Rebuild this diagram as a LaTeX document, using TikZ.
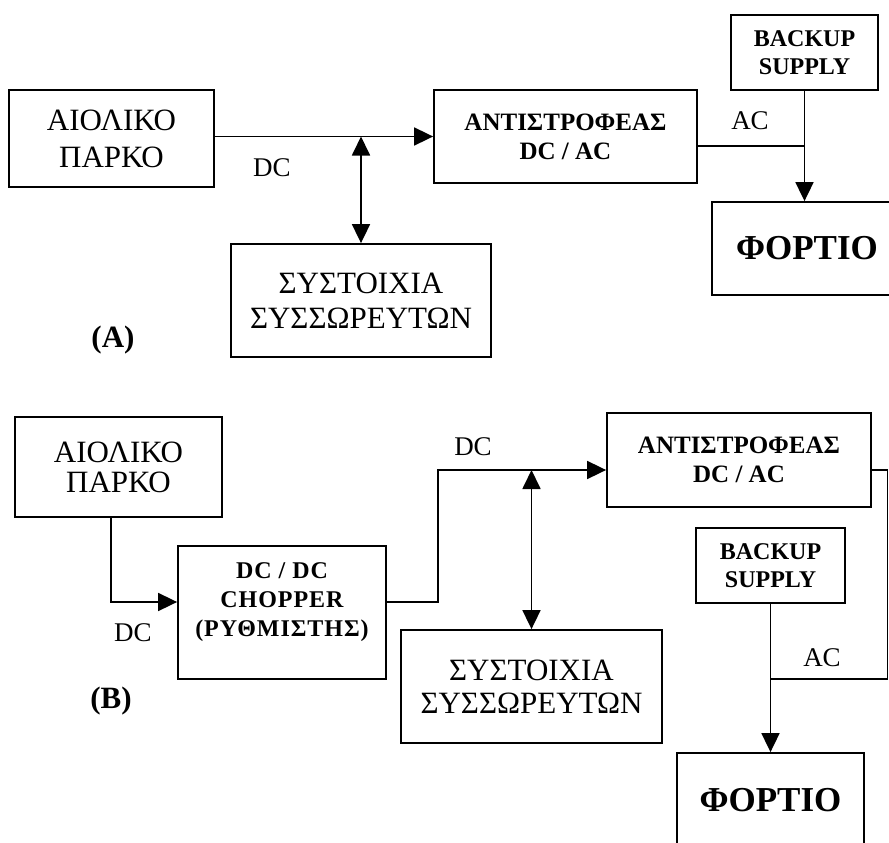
\documentclass[tikz,border=0pt]{standalone}
\usepackage{fontspec}
\setmainfont{Liberation Serif}
\newfontfamily\chopfont[LetterSpace=4]{Liberation Serif}
\usetikzlibrary{arrows.meta}
\tikzset{
  blk/.style={draw, line width=1.8pt, inner sep=0pt, align=center},
  conn/.style={line width=1.8pt},
  tip/.style={-{Triangle[length=19pt,width=18pt]}},
  dtip/.style={{Triangle[length=19pt,width=18pt]}-{Triangle[length=19pt,width=18pt]}},
  lbl/.style={inner sep=0pt, font=\fontsize{27}{27}\selectfont},
  tag/.style={inner sep=0pt, font=\fontsize{31}{31}\selectfont\bfseries},
  loadtxt/.style={font=\fontsize{35}{35}\selectfont\bfseries},
}
\begin{document}
\begin{tikzpicture}[x=1pt,y=-1pt]
\useasboundingbox (0,0) rectangle (889,843);
\clip (0,0) rectangle (889,843);
\fill[white] (0,0) rectangle (889,843);

% ---------------- (A) ----------------
\node[blk, minimum width=205pt, minimum height=97pt, font=\fontsize{31}{37}\selectfont] (parkA) at (111.5,138.5) {ΑΙΟΛΙΚΟ\\ΠΑΡΚΟ};
\node[blk, minimum width=263pt, minimum height=93pt, font=\fontsize{25}{29}\selectfont\bfseries] (invA) at (565.5,136.5) {ΑΝΤΙΣΤΡΟΦΕΑΣ\\DC / AC};
\node[blk, minimum width=147pt, minimum height=75pt, font=\fontsize{24}{28}\selectfont\bfseries] (backA) at (804.5,52.5) {BACKUP\\SUPPLY};
\node[blk, loadtxt, minimum width=190pt, minimum height=93pt] (loadA) at (807,248.5) {ΦΟΡΤΙΟ};
\node[blk, minimum width=260pt, minimum height=113pt, font=\fontsize{31}{35}\selectfont] (battA) at (361,300.5) {ΣΥΣΤΟΙΧΙΑ\\ΣΥΣΣΩΡΕΥΤΩΝ};

\coordinate (jA) at (battA.north |- invA.west);
\draw[conn,tip] (parkA.east |- invA.west) -- (invA.west);
\draw[conn,dtip] (jA) -- (battA.north);
\coordinate (acA) at ([yshift=-9.5pt]invA.east);
\draw[conn] (acA) -- (acA -| backA.south);
\draw[conn,tip] (backA.south) -- (backA.south |- loadA.north);

\node[lbl] (dcA) at (272,168) {DC};
\node[lbl] (acAl) at (750,121) {AC};
\node[tag] (labA) at (113,340) {(A)};

% ---------------- (B) ----------------
\node[blk, minimum width=207pt, minimum height=100pt, font=\fontsize{31}{30}\selectfont] (parkB) at (118.5,467) {ΑΙΟΛΙΚΟ\\ΠΑΡΚΟ};
\node[blk, minimum width=208pt, minimum height=133pt] (chop) at (282,612.5) {};
\node[inner sep=0pt, align=center, font=\chopfont\fontsize{24}{29}\selectfont\bfseries] (chopT) at (282,602) {DC / DC\\CHOPPER\\(ΡΥΘΜΙΣΤΗΣ)};
\node[blk, minimum width=264pt, minimum height=94pt, font=\fontsize{25}{29}\selectfont\bfseries] (invB) at (739,460) {ΑΝΤΙΣΤΡΟΦΕΑΣ\\DC / AC};
\node[blk, minimum width=261pt, minimum height=113pt, font=\fontsize{31}{33}\selectfont] (battB) at (531.5,686.5) {ΣΥΣΤΟΙΧΙΑ\\ΣΥΣΣΩΡΕΥΤΩΝ};
\node[blk, minimum width=149pt, minimum height=75pt, font=\fontsize{24}{28}\selectfont\bfseries] (backB) at (770.5,565.5) {BACKUP\\SUPPLY};
\node[blk, loadtxt, minimum width=187pt, minimum height=94pt] (loadB) at (770.5,800) {ΦΟΡΤΙΟ};

\coordinate (pB) at ([xshift=-7.5pt]parkB.south);
\coordinate (chin) at ([yshift=10.5pt]chop.west);
\draw[conn,tip] (pB) |- (chin);
\coordinate (chout) at ([yshift=10.5pt]chop.east);
\coordinate (invBin) at ([yshift=-10pt]invB.west);
\coordinate (kB) at (438,470);
\draw[conn,tip] (chout) -| (kB) -- (invBin);
\coordinate (jB) at (battB.north |- invBin);
\draw[conn,dtip] (jB) -- (battB.north);
\coordinate (invBout) at ([yshift=-10pt]invB.east);
\coordinate (rB) at (887.5,679);
\draw[conn] (invBout) -| (rB) -- (rB -| backB.south);
\draw[conn,tip] (backB.south) -- (loadB.north);

\node[lbl] (dcB1) at (133,633) {DC};
\node[lbl] (dcB2) at (473,447) {DC};
\node[lbl] (acB) at (822,658) {AC};
\node[tag] (labB) at (111,701) {(B)};
\end{tikzpicture}
\end{document}
